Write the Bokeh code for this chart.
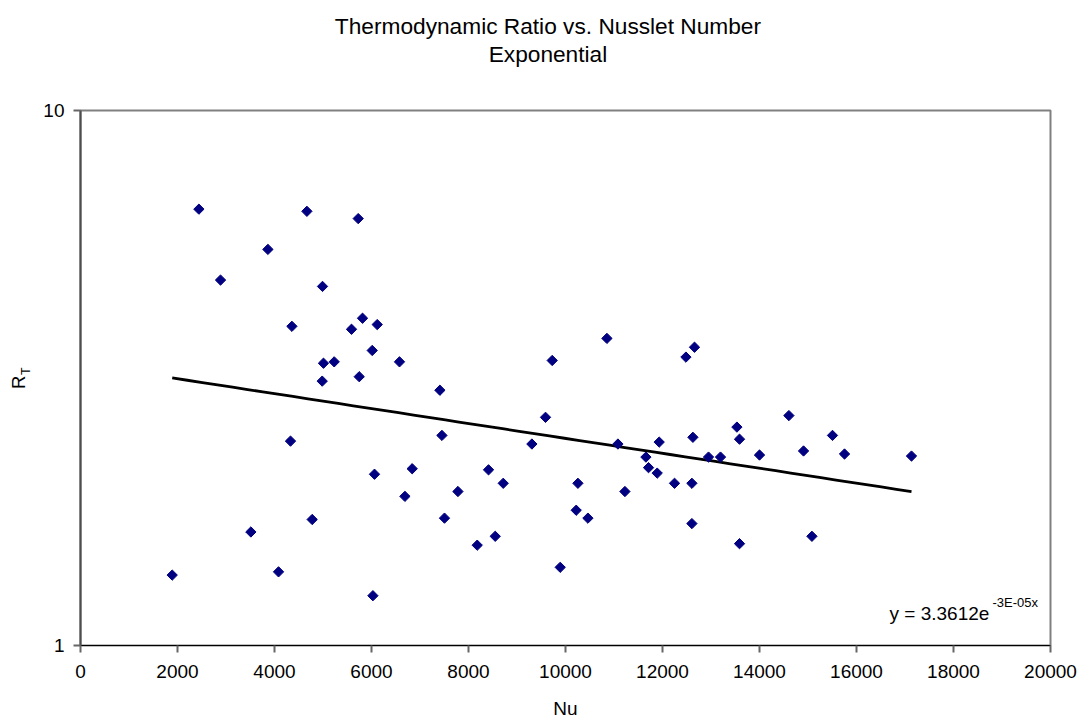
import numpy as np
from bokeh.plotting import figure
from bokeh.layouts import row, column
from bokeh.models import Range1d, FixedTicker, BasicTickFormatter, Label, ColumnDataSource
from bokeh.core.properties import value
from bokeh.embed import file_html
from bokeh.resources import INLINE

# Data (Nu, R_T)
nu = [2441, 4668, 5726, 3864, 2887, 4990, 4359, 5815, 5588, 6118,
      6015, 5010, 5231, 6577, 4984, 5747, 4330, 6062, 6839, 6689,
      4777, 3513, 1891, 4083, 6029, 10854, 12660, 12483, 9726, 7410,
      9588, 7452, 9307, 11081, 11932, 12627, 13534, 13588, 11658, 12949,
      13196, 14000, 11712, 11891, 8413, 8716, 7782, 10256, 12248, 12606,
      11225, 7505, 10221, 10462, 12606, 8551, 8180, 13588, 9891, 14606,
      15505, 14908, 15753, 17134, 15081]
rt = [6.54, 6.48, 6.28, 5.50, 4.82, 4.69, 3.95, 4.09, 3.90, 3.98,
      3.56, 3.37, 3.39, 3.39, 3.12, 3.18, 2.41, 2.09, 2.14, 1.90,
      1.72, 1.63, 1.354, 1.373, 1.239, 3.75, 3.61, 3.46, 3.41, 3.00,
      2.67, 2.47, 2.38, 2.38, 2.40, 2.45, 2.56, 2.43, 2.25, 2.25,
      2.25, 2.27, 2.15, 2.10, 2.13, 2.01, 1.94, 2.01, 2.01, 2.01,
      1.94, 1.73, 1.79, 1.73, 1.69, 1.60, 1.54, 1.55, 1.40, 2.69,
      2.47, 2.31, 2.28, 2.26, 1.60]

# Exponential trendline y = a * exp(-k x)
trend_a = 3.3612
trend_k = 3.21e-5

x_ticks = [0, 2000, 4000, 6000, 8000, 10000, 12000, 14000, 16000, 18000, 20000]
y_ticks = [1, 10]

title_1 = "Thermodynamic Ratio vs. Nusslet Number"
title_2 = "Exponential"
x_label = "Nu"
y_label_main = "R"
y_label_sub = "T"
eq_main = "y = 3.3612e"
eq_sup = "-3E-05x"

FONT = "Liberation Sans"

LEFT_W = 36      # width of the strip carrying the y label
TOP_H = 70       # height of the strip carrying the title


def strip(w, h):
    f = figure(width=w, height=h, output_backend="svg", toolbar_location=None,
               x_range=Range1d(0, w), y_range=Range1d(0, h),
               x_axis_type=None, y_axis_type=None,
               min_border_left=0, min_border_right=0, min_border_top=0, min_border_bottom=0)
    f.outline_line_color = None
    f.background_fill_color = "white"
    f.border_fill_color = "white"
    return f


def add_label(fig, text, x, y, size, align="left", angle=0.0):
    fig.add_layout(Label(x=x, y=y, x_units="screen", y_units="screen", text=text,
                         text_font=FONT, text_font_size=size, text_align=align,
                         text_baseline="alphabetic", text_color="black",
                         angle=angle, angle_units="rad"))

# ---- main chart ----
p = figure(width=1050, height=723 - TOP_H, output_backend="svg", toolbar_location=None,
           x_range=Range1d(0, 20000), y_range=Range1d(1, 10), y_axis_type="log",
           min_border_left=44, min_border_right=36, min_border_top=40, min_border_bottom=78)
p.background_fill_color = "white"
p.border_fill_color = "white"
p.outline_line_color = "#808080"
p.outline_line_width = 2
p.xgrid.visible = False
p.ygrid.visible = False

p.xaxis.ticker = FixedTicker(ticks=x_ticks, minor_ticks=[])
p.yaxis.ticker = FixedTicker(ticks=y_ticks, minor_ticks=[])
p.yaxis.formatter = BasicTickFormatter()
p.yaxis.major_label_overrides = {1: "1", 10: "10"}
for ax in (p.xaxis[0], p.yaxis[0]):
    ax.major_label_text_font = FONT
    ax.major_label_text_font_size = "19px"
    ax.major_label_text_color = "black"
    ax.major_tick_out = 7
    ax.major_tick_in = 0
    ax.minor_tick_out = 0
    ax.minor_tick_in = 0
    ax.major_tick_line_color = "#666666"
    ax.major_tick_line_width = 2
p.xaxis.axis_line_color = "black"
p.xaxis.axis_line_width = 1
p.yaxis.axis_line_color = "#4d4d4d"
p.yaxis.axis_line_width = 2
p.xaxis.major_label_standoff = 12
p.yaxis.major_label_standoff = 9
p.xaxis.axis_label = x_label
p.xaxis.axis_label_text_font = FONT
p.xaxis.axis_label_text_font_size = "19px"
p.xaxis.axis_label_text_font_style = "normal"
p.xaxis.axis_label_text_color = "black"
p.xaxis.axis_label_standoff = 17

# trendline
tx_full = np.linspace(min(nu), max(nu), 50)
ty_full = trend_a * np.exp(-trend_k * tx_full)
p.line(tx_full, ty_full, line_color="black", line_width=2.8)

# points
src = ColumnDataSource(dict(x=nu, y=rt))
p.scatter("x", "y", source=src, marker="square", angle=np.pi / 4, size=7.3,
          fill_color="#000080", line_color="#000080")

# equation (inside plot area; frame-relative screen units)
add_label(p, eq_main, 809, 32, "19px")
add_label(p, eq_sup, 912, 43, "13px")

# ---- title strip (canvas x offset LEFT_W) ----
top = strip(1050, TOP_H)
top.text(x=[542 - LEFT_W], y=[TOP_H - 25], text=[title_1],
         text_font=value(FONT), text_font_size="22.7px", text_align="center",
         text_baseline="alphabetic", text_color="black")
top.text(x=[542 - LEFT_W], y=[TOP_H - 53], text=[title_2],
         text_font=value(FONT), text_font_size="22.7px", text_align="center",
         text_baseline="alphabetic", text_color="black")

# ---- left strip carrying the rotated y label R_T (reads bottom to top) ----
yl = strip(LEFT_W, 723)
add_label(yl, y_label_main, 18.1, 723 - 388.5, "18.5px", angle=np.pi / 2)
add_label(yl, y_label_sub, 25.3, 723 - 374.5, "12.5px", angle=np.pi / 2)

layout = row(yl, column(top, p, spacing=0), spacing=0)
open("out.html", "w").write(file_html(layout, INLINE))
